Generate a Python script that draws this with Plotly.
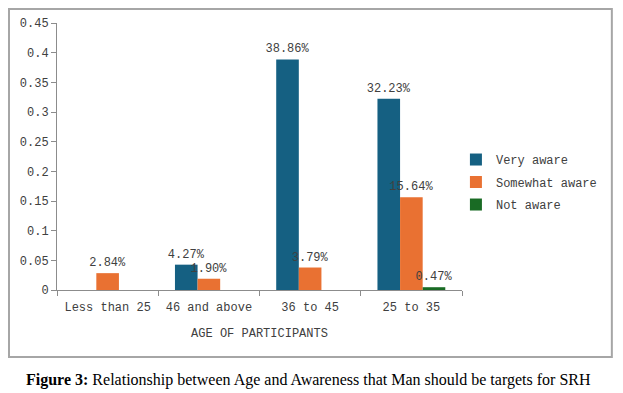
import plotly.graph_objects as go

categories = ["Less than 25", "46 and above", "36 to 45", "25 to 35"]
very_aware = [None, 0.0427, 0.3886, 0.3223]
somewhat_aware = [0.0284, 0.0190, 0.0379, 0.1564]
not_aware = [None, None, None, 0.0047]
series_names = ["Very aware", "Somewhat aware", "Not aware"]
colors = ["#156082", "#E97132", "#196B24"]
y_ticks = [0, 0.05, 0.1, 0.15, 0.2, 0.25, 0.3, 0.35, 0.4, 0.45]

FONT = "Liberation Mono"
TXT = "#404040"

def labels(vals):
    return [None if v is None else f"{v*100:.2f}%" for v in vals]

fig = go.Figure()
for name, vals, col in zip(series_names, [very_aware, somewhat_aware, not_aware], colors):
    fig.add_trace(go.Bar(
        name=name, x=categories, y=vals, marker=dict(color=col, line=dict(width=0)),
        legendgroup=name,
        text=labels(vals), textposition="outside", constraintext="none", textangle=0,
        textfont=dict(family=FONT, size=12, color=TXT), cliponaxis=False,
    ))

fig.update_layout(
    width=615, height=385,
    margin=dict(l=49, r=161, t=15, b=103, autoexpand=False),
    paper_bgcolor="white", plot_bgcolor="white",
    barmode="group", bargap=0.33, bargroupgap=0,
    font=dict(family=FONT, size=12, color=TXT),
    legend=dict(x=0.985, y=0.543, xanchor="left", yanchor="top", tracegroupgap=3.5,
                font=dict(family=FONT, size=12, color=TXT), bgcolor="rgba(0,0,0,0)"),
    xaxis=dict(showline=True, linecolor="#8c8c8c", linewidth=1, ticks="outside",
               tickson="boundaries", ticklen=5, tickcolor="#8c8c8c", showgrid=False,
               ticklabelstandoff=6,
               title=dict(text="AGE OF PARTICIPANTS", standoff=14,
                          font=dict(family=FONT, size=12, color=TXT))),
    yaxis=dict(range=[0, 0.45], tickvals=y_ticks, ticktext=[f"{t:g}" for t in y_ticks],
               showline=True, linecolor="#8c8c8c", linewidth=1, ticks="outside",
               ticklen=5, tickcolor="#8c8c8c", showgrid=False, zeroline=False),
    shapes=[dict(type="rect", xref="paper", yref="paper",
                 x0=-0.1185, x1=1.370, y0=-0.251, y1=1.0524,
                 line=dict(color="#a6a6a6", width=2), fillcolor="rgba(0,0,0,0)")],
    annotations=[dict(xref="paper", yref="paper", x=0.622, y=-0.337,
                      text="<b>Figure 3:</b> Relationship between Age and Awareness that Man should be targets for SRH",
                      showarrow=False, xanchor="center", yanchor="middle",
                      font=dict(family="Liberation Serif", size=16, color="black"))],
)

fig.write_html("out.html")
